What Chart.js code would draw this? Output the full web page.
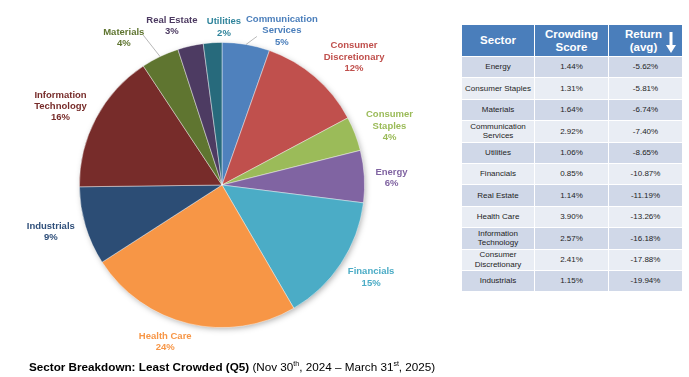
<!DOCTYPE html>
<html>
<head>
<meta charset="utf-8">
<script src="https://cdn.jsdelivr.net/npm/chart.js@4"></script>
<style>
  html, body { margin:0; padding:0; background:#fff; width:689px; height:377px; overflow:hidden; font-family:"Liberation Sans", Arial, sans-serif; }
  #pieWrap { position:absolute; left:0; top:0; width:450px; height:377px; }
  #tbl { position:absolute; left:461px; top:24px; border-collapse:collapse; table-layout:fixed; }
  #tbl th, #tbl td { border:1.5px solid #fff; text-align:center; padding:0; }
  #tbl th { background:#4a7ebb; color:#fff; font-weight:bold; font-size:11.5px; line-height:13px; height:31px; position:relative; }
  #tbl td { font-size:8px; line-height:9.5px; color:#1e1e1e; height:20.4px; }
  #tbl tr.odd td { background:#d0d8e8; }
  #tbl tr.even td { background:#e9edf4; }
  #caption { position:absolute; left:29px; top:360px; font-size:11.7px; color:#000; white-space:nowrap; }
  #caption sup { font-size:7px; vertical-align:5px; line-height:0; }
</style>
</head>
<body>
<div id="pieWrap"><canvas id="pie" width="450" height="377"></canvas></div>
<table id="tbl">
  <colgroup><col style="width:73px"><col style="width:74px"><col style="width:74px"></colgroup>
  <thead><tr><th>Sector</th><th>Crowding<br>Score</th><th><span style="position:relative;left:-2px">Return<br>(avg)</span><svg width="10" height="22" viewBox="0 0 10 22" style="position:absolute;right:6px;top:7px"><rect x="3.5" y="0" width="3" height="14" fill="#fff"/><polygon points="0,13 10,13 5,21" fill="#fff"/></svg></th></tr></thead>
  <tbody id="tbody"></tbody>
</table>
<div id="caption"><b>Sector Breakdown: Least Crowded (Q5)</b> (Nov 30<sup>th</sup>, 2024 – March 31<sup>st</sup>, 2025)</div>
<script>
// ---- Pie data ----
const sectors = ["Communication Services","Consumer Discretionary","Consumer Staples","Energy","Financials","Health Care","Industrials","Information Technology","Materials","Real Estate","Utilities"];
const shares = [5.4, 11.8, 3.9, 5.9, 14.6, 24.3, 8.9, 15.9, 4.3, 2.9, 2.1];
const labelLines = [["Communication","Services"],["Consumer","Discretionary"],["Consumer","Staples"],["Energy"],["Financials"],["Health Care"],["Industrials"],["Information","Technology"],["Materials"],["Real Estate"],["Utilities"]];

// ---- Table data ----
const tableSectors = [["Energy"],["Consumer Staples"],["Materials"],["Communication","Services"],["Utilities"],["Financials"],["Real Estate"],["Health Care"],["Information","Technology"],["Consumer","Discretionary"],["Industrials"]];
const crowdingScores = ["1.44%","1.31%","1.64%","2.92%","1.06%","0.85%","1.14%","3.90%","2.57%","2.41%","1.15%"];
const avgReturns = ["-5.62%","-5.81%","-6.74%","-7.40%","-8.65%","-10.87%","-11.19%","-13.26%","-16.18%","-17.88%","-19.94%"];

// ---- styles ----
const sliceColors = ["#4f81bd","#c0504d","#9bbb59","#8064a2","#4bacc6","#f79646","#2c4d75","#772c2a","#5f7530","#4d3b62","#276a7c"];
const labelColors = ["#4a7ebb","#c0504d","#9bbb59","#8064a2","#4bacc6","#f79646","#2f4f7a","#772c2a","#5f7530","#4d3b62","#31859c"];
// label placement: [radius factor, angle nudge in degrees]
const labelPlace = [[1.16,11.5],[1.29,5.2],[1.245,1.7],[1.19,1.0],[1.23,-1.7],[1.17,6.4],[1.245,1.4],[1.26,-1.9],[1.24,-8],[1.17,-4.7],[1.105,4.5]];
// leader lines: [end radius factor, angle nudge] or null
const leaders = [[1.07,3.5],null,null,null,null,null,null,null,[1.19,-2],null,null];

// table body
const tb = document.getElementById('tbody');
tableSectors.forEach((s,i)=>{
  const tr = document.createElement('tr');
  tr.className = i%2===0 ? 'odd' : 'even';
  const td1 = document.createElement('td'); td1.innerHTML = s.join('<br>');
  const td2 = document.createElement('td'); td2.textContent = crowdingScores[i];
  const td3 = document.createElement('td'); td3.textContent = avgReturns[i];
  tr.append(td1,td2,td3); tb.appendChild(tr);
});

const shadowPlugin = {
  id:'shadow',
  beforeDatasetsDraw(chart){
    const a = chart.getDatasetMeta(0).data[0];
    if(!a) return;
    const ctx = chart.ctx;
    ctx.save();
    ctx.shadowColor = 'rgba(0,0,0,0.35)';
    ctx.shadowBlur = 6;
    ctx.shadowOffsetX = 1.5;
    ctx.shadowOffsetY = 2;
    ctx.fillStyle = '#999';
    ctx.beginPath(); ctx.arc(a.x, a.y, a.outerRadius-1, 0, Math.PI*2); ctx.fill();
    ctx.restore();
  }
};

const labelPlugin = {
  id:'pieLabels',
  afterDatasetsDraw(chart){
    const ctx = chart.ctx;
    const meta = chart.getDatasetMeta(0);
    const ds = chart.data.datasets[0].data;
    meta.data.forEach((arc,i)=>{
      const mid = (arc.startAngle + arc.endAngle)/2;
      const r = arc.outerRadius;
      const [k, nud] = labelPlace[i];
      const ang = mid + nud*Math.PI/180;
      const lx = arc.x + Math.cos(ang)*r*k;
      const ly = arc.y + Math.sin(ang)*r*k;
      if (leaders[i]) {
        const [k2, n2] = leaders[i];
        const a2 = mid + n2*Math.PI/180;
        ctx.save();
        ctx.strokeStyle = '#a6a6a6'; ctx.lineWidth = 0.8;
        ctx.beginPath();
        ctx.moveTo(arc.x + Math.cos(mid)*r, arc.y + Math.sin(mid)*r);
        ctx.lineTo(arc.x + Math.cos(a2)*r*k2, arc.y + Math.sin(a2)*r*k2);
        ctx.stroke(); ctx.restore();
      }
      const lines = labelLines[i].concat([Math.round(ds[i]) + '%']);
      const lh = 11.3;
      ctx.save();
      ctx.font = 'bold 9.5px "Liberation Sans", Arial, sans-serif';
      ctx.fillStyle = labelColors[i];
      ctx.textAlign = 'center'; ctx.textBaseline = 'middle';
      const y0 = ly - (lines.length-1)*lh/2;
      lines.forEach((t,j)=>ctx.fillText(t, lx, y0 + j*lh));
      ctx.restore();
    });
  }
};

new Chart(document.getElementById('pie'), {
  type:'pie',
  data:{ labels:sectors, datasets:[{ data:shares, backgroundColor:sliceColors, borderColor:'rgba(255,255,255,0.55)', borderWidth:0.8 }] },
  options:{
    responsive:false, animation:false, devicePixelRatio:1,
    layout:{ padding:{ left:79, right:85, top:42, bottom:49 } },
    plugins:{ legend:{display:false}, tooltip:{enabled:false}, title:{display:false} }
  },
  plugins:[shadowPlugin, labelPlugin]
});
</script>
</body>
</html>
